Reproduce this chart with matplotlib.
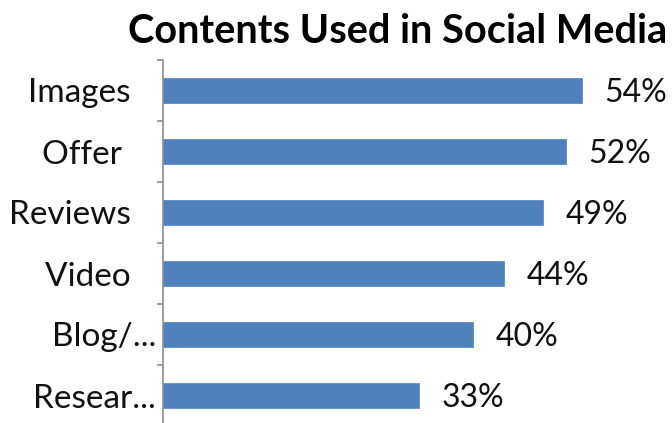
import matplotlib
matplotlib.use("Agg")
import matplotlib.pyplot as plt
import numpy as np

categories = ["Images", "Offer", "Reviews", "Video", "Blog/...", "Resear..."]
tick_labels = ["Images   ", "Offer    ", "Reviews   ", "Video   ", "Blog/...", "Resear..."]
values = [54, 52, 49, 44, 40, 33]
value_labels = ["54%", "52%", "49%", "44%", "40%", "33%"]

W, H = 672, 423
fig = plt.figure(figsize=(W / 100, H / 100), dpi=100)
fig.patch.set_facecolor("white")
ax = fig.add_axes([163 / W, -3 / H, (W - 163) / W, 366 / H])

y = np.arange(len(categories))
ax.barh(y, values, height=0.4, color="#4F81BD", edgecolor="#4F81BD", linewidth=0.5)
ax.set_xlim(0, 65.6)
ax.set_ylim(len(categories) - 0.5, -0.5)

for s in ["top", "right", "bottom"]:
    ax.spines[s].set_visible(False)
ax.spines["left"].set_color("#8C8C8C")
ax.spines["left"].set_linewidth(1.2)
ax.set_xticks([])
ax.set_yticks(y)
ax.set_yticklabels(tick_labels, fontsize=24, family="Lato", color="#111111")
ax.tick_params(axis="y", which="major", length=0, pad=5)
ax.set_yticks(np.arange(-0.5, len(categories) + 0.5, 1), minor=True)
ax.tick_params(axis="y", which="minor", length=4, width=1.2, color="#8C8C8C")

for yi, v, lab in zip(y, values, value_labels):
    ax.annotate(lab, (v, yi), xytext=(16, -1.5), textcoords="offset points",
                ha="left", va="center", fontsize=23, family="Lato", color="#111111")

fig.text(398 / W, 1 - 43 / H, "Contents Used in Social Media", ha="center", va="baseline",
         fontsize=28.6, fontweight="bold", family="Lato", color="black")

fig.savefig("out.png", dpi=100)
